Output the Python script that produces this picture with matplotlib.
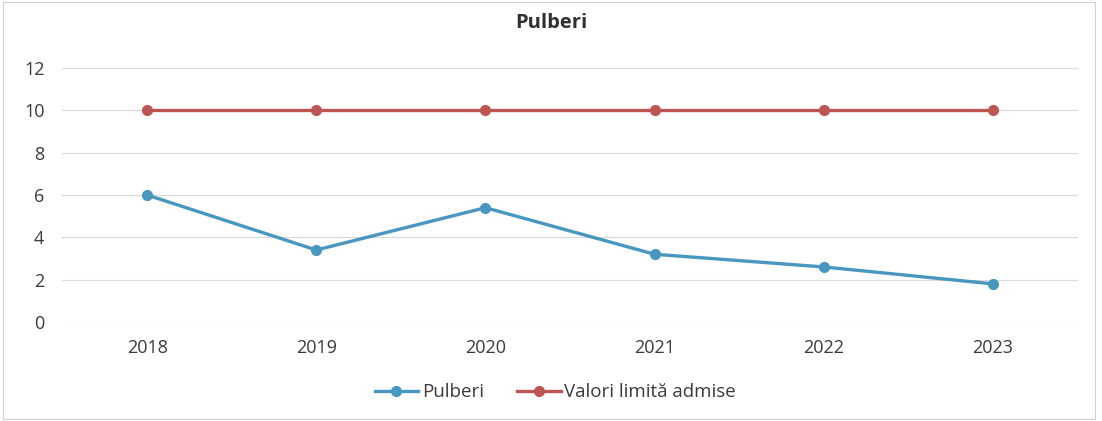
"""Pulberi vs. valori limită admise, 2018-2023 — line chart."""

import matplotlib
matplotlib.use("Agg")
import matplotlib.pyplot as plt
from matplotlib.patches import Rectangle

years = ["2018", "2019", "2020", "2021", "2022", "2023"]
pulberi = [6.0, 3.4, 5.4, 3.2, 2.6, 1.8]
valori_limita = [10, 10, 10, 10, 10, 10]
y_ticks = [0, 2, 4, 6, 8, 10, 12]

BLUE = "#4897c0"
RED = "#bd5552"
TEXT = "#3a3a3a"

plt.rcParams["font.family"] = ["Open Sans", "DejaVu Sans"]

fig = plt.figure(figsize=(11.02, 4.21), dpi=100)
ax = fig.add_axes([0.0567, 0.2352, 0.9211, 0.6033])

x = range(len(years))
ax.plot(x, pulberi, color=BLUE, lw=2.4, marker="o", ms=7, label="Pulberi")
ax.plot(x, valori_limita, color=RED, lw=2.4, marker="o", ms=7,
        label="Valori limită admise")

ax.set_xlim(-0.5, len(years) - 0.5)
ax.set_ylim(0, 12)
ax.set_xticks(list(x))
ax.set_xticklabels(years)
ax.set_yticks(y_ticks)
ax.tick_params(axis="both", length=0, labelsize=13, colors=TEXT)
ax.tick_params(axis="y", pad=13)
ax.tick_params(axis="x", pad=12)
ax.grid(axis="y", color="#d9d9d9", lw=0.8)
ax.set_axisbelow(True)
for s in ax.spines.values():
    s.set_visible(False)

fig.text(0.5, 0.945, "Pulberi", ha="center", va="center", fontsize=14.5,
         fontweight="bold", color="#303030")

fig.legend(loc="center", bbox_to_anchor=(0.504, 0.068), ncol=2, frameon=False,
           fontsize=13.5, handlelength=2.3, columnspacing=1.8, handletextpad=0.2,
           labelcolor=TEXT)

fig.patches.append(Rectangle((0.003, 0.005), 0.991, 0.99, transform=fig.transFigure,
                             fill=False, ec="#d0d0d0", lw=0.8))

fig.savefig("out.png", dpi=100)
